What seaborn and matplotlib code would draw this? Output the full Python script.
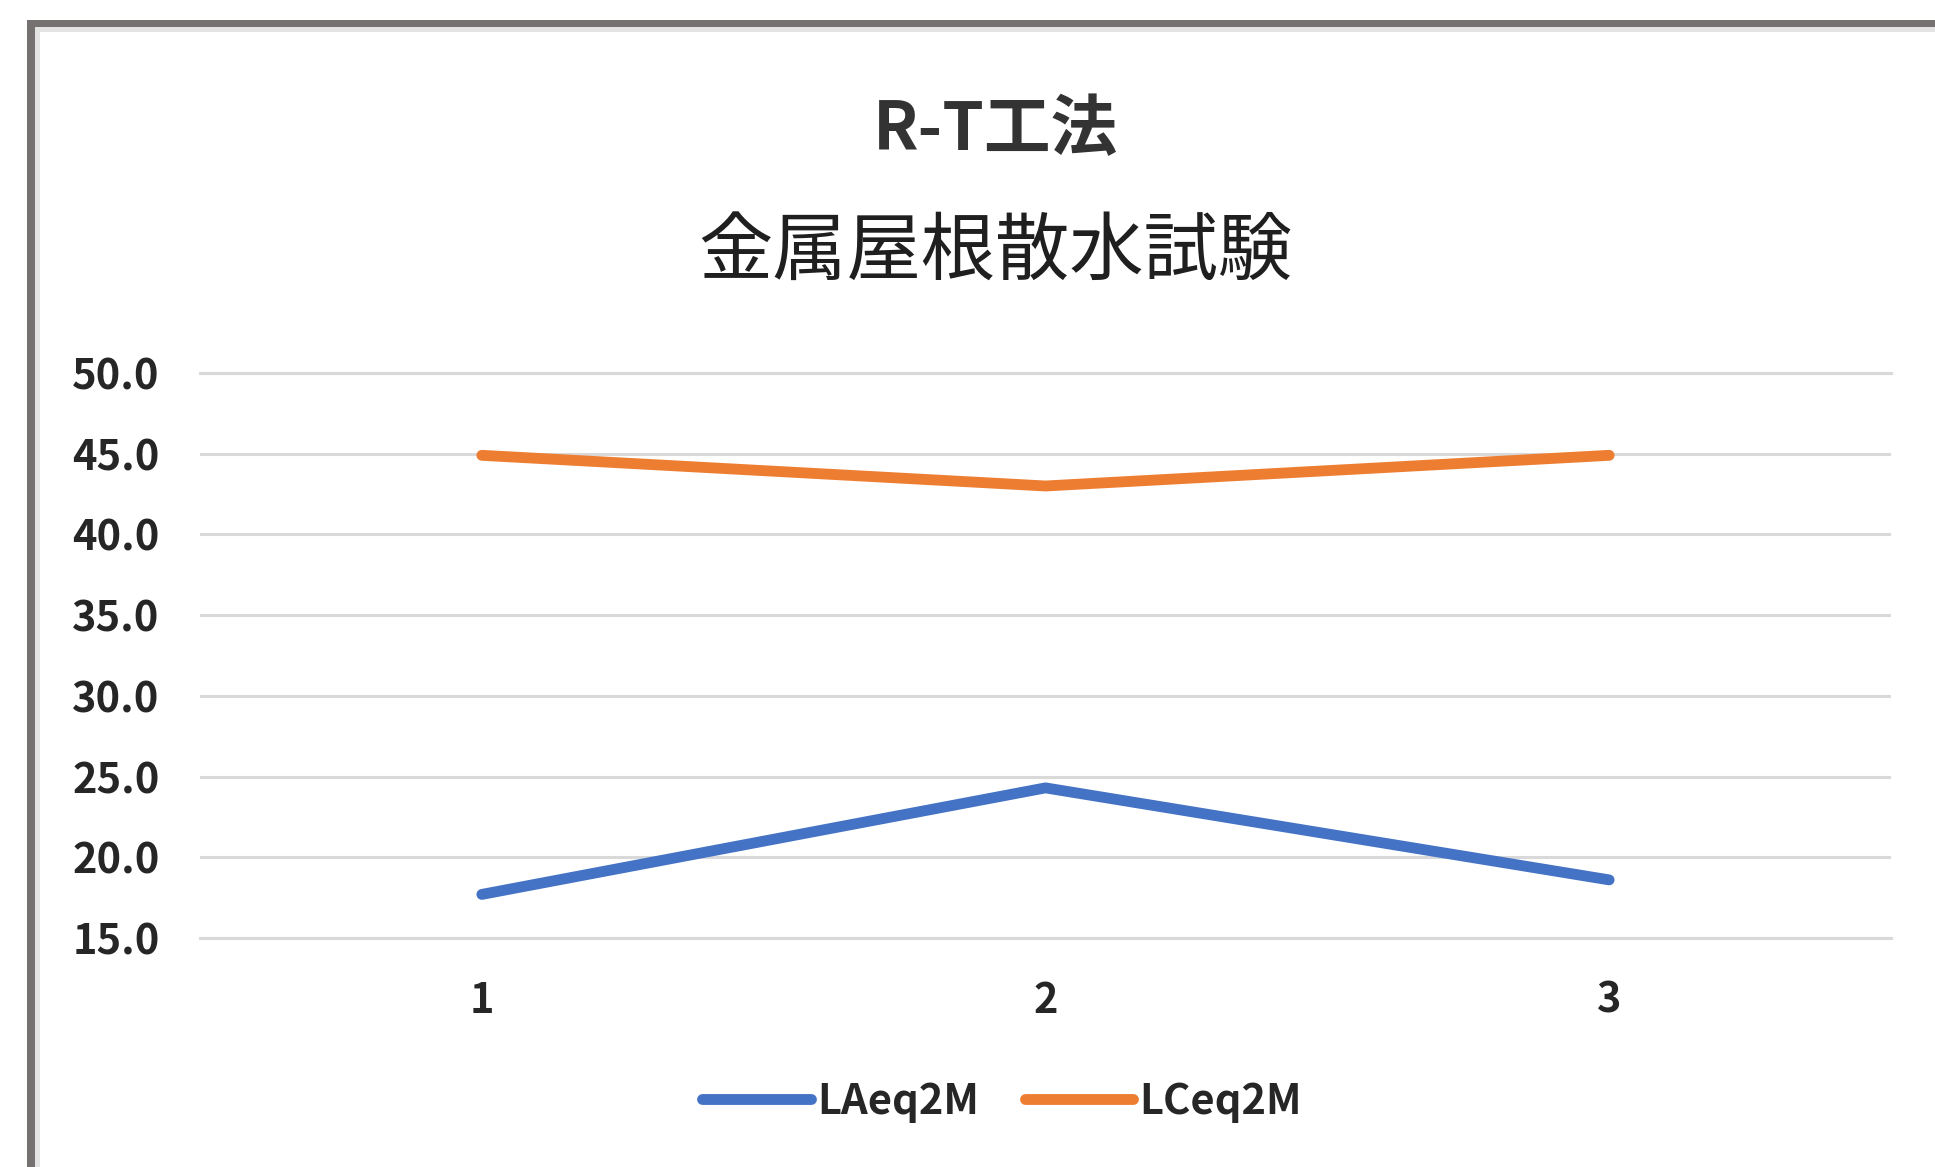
"""
R-T工法 金属屋根散水試験: LAeq2M / LCeq2M の推移 (Excel 風の折れ線グラフ)
"""

import matplotlib
matplotlib.use("Agg")
import matplotlib.pyplot as plt
from matplotlib.patches import Rectangle
import pandas as pd
import seaborn as sns

# ---- データ ----
trials = [1, 2, 3]
laeq2m = [17.7, 24.3, 18.6]
lceq2m = [44.9, 43.0, 44.9]
series_names = ["LAeq2M", "LCeq2M"]
title_lines = ["R-T工法", "金属屋根散水試験"]
y_ticks = [15, 20, 25, 30, 35, 40, 45, 50]

BLUE = "#4472C4"
ORANGE = "#ED7D31"
GRID = "#D9D9D9"
TEXT = "#262626"

sns.set_theme(style="white")
plt.rcParams["font.family"] = ["Noto Sans CJK JP", "DejaVu Sans"]

df = pd.DataFrame({
    "trial": trials * 2,
    "value": laeq2m + lceq2m,
    "series": [series_names[0]] * len(trials) + [series_names[1]] * len(trials),
})

W, H = 1935, 1167
fig = plt.figure(figsize=(W / 100, H / 100), dpi=100)
fig.patch.set_facecolor("white")

# プロット領域 (ピクセル位置から換算)
ax = fig.add_axes([200 / W, 1 - 938 / H, (1891 - 200) / W, (938 - 373) / H])

sns.lineplot(data=df, x="trial", y="value", hue="series",
             palette=[BLUE, ORANGE], linewidth=7.8, ax=ax,
             solid_capstyle="round", legend=True)

ax.set_xlim(0.5, 3.5)
ax.set_ylim(15, 50)
ax.set_xticks(trials)
ax.set_xticklabels([str(t) for t in trials])
ax.set_yticks(y_ticks)
ax.set_yticklabels([f"{v:.1f}" for v in y_ticks])
ax.set_xlabel("")
ax.set_ylabel("")

ax.grid(axis="y", color=GRID, linewidth=2.2)
ax.grid(axis="x", visible=False)
ax.set_axisbelow(True)
for side in ["left", "right"]:
    ax.spines[side].set_visible(False)
for side in ["top", "bottom"]:
    ax.spines[side].set_color(GRID)
    ax.spines[side].set_linewidth(2.2)

ax.tick_params(axis="y", length=0, pad=29, labelsize=30, labelcolor=TEXT)
ax.tick_params(axis="x", length=0, pad=30, labelsize=30, labelcolor=TEXT)
for lab in ax.get_xticklabels() + ax.get_yticklabels():
    lab.set_fontweight("bold")

# 凡例 (下部中央, 枠なし)
handles, labels = ax.get_legend_handles_labels()
ax.legend_.remove()
leg = fig.legend(handles, labels, loc="center", bbox_to_anchor=(1002 / W, 1 - 1102 / H),
                 ncol=2, frameon=False, prop={"size": 30, "weight": "bold"},
                 handlelength=2.6, handletextpad=0.15, columnspacing=1.1)
for line in leg.get_lines():
    line.set_linewidth(7.8)
    line.set_solid_capstyle("round")
for t in leg.get_texts():
    t.set_color(TEXT)

# タイトル (2行)
fig.text(995 / W, 1 - 131 / H, title_lines[0], ha="center", va="center",
         fontsize=48, fontweight="bold", color="#333333")
fig.text(995 / W, 1 - 253 / H, title_lines[1], ha="center", va="center",
         fontsize=53.5, color="#1f1f1f")

# スクリーンショットの枠線
dark = "#767171"
fig.add_artist(Rectangle((27 / W, 0), 8 / W, 1 - 20 / H, transform=fig.transFigure,
                         facecolor=dark, edgecolor="none"))
fig.add_artist(Rectangle((27 / W, 1 - 27 / H), 1, 7 / H, transform=fig.transFigure,
                         facecolor=dark, edgecolor="none"))
fig.add_artist(Rectangle((35 / W, 0), 5 / W, 1 - 27 / H, transform=fig.transFigure,
                         facecolor="#E3E3E3", edgecolor="none"))
fig.add_artist(Rectangle((35 / W, 1 - 32 / H), 1, 5 / H, transform=fig.transFigure,
                         facecolor="#E3E3E3", edgecolor="none"))

fig.savefig("out.png", dpi=100, facecolor="white")
